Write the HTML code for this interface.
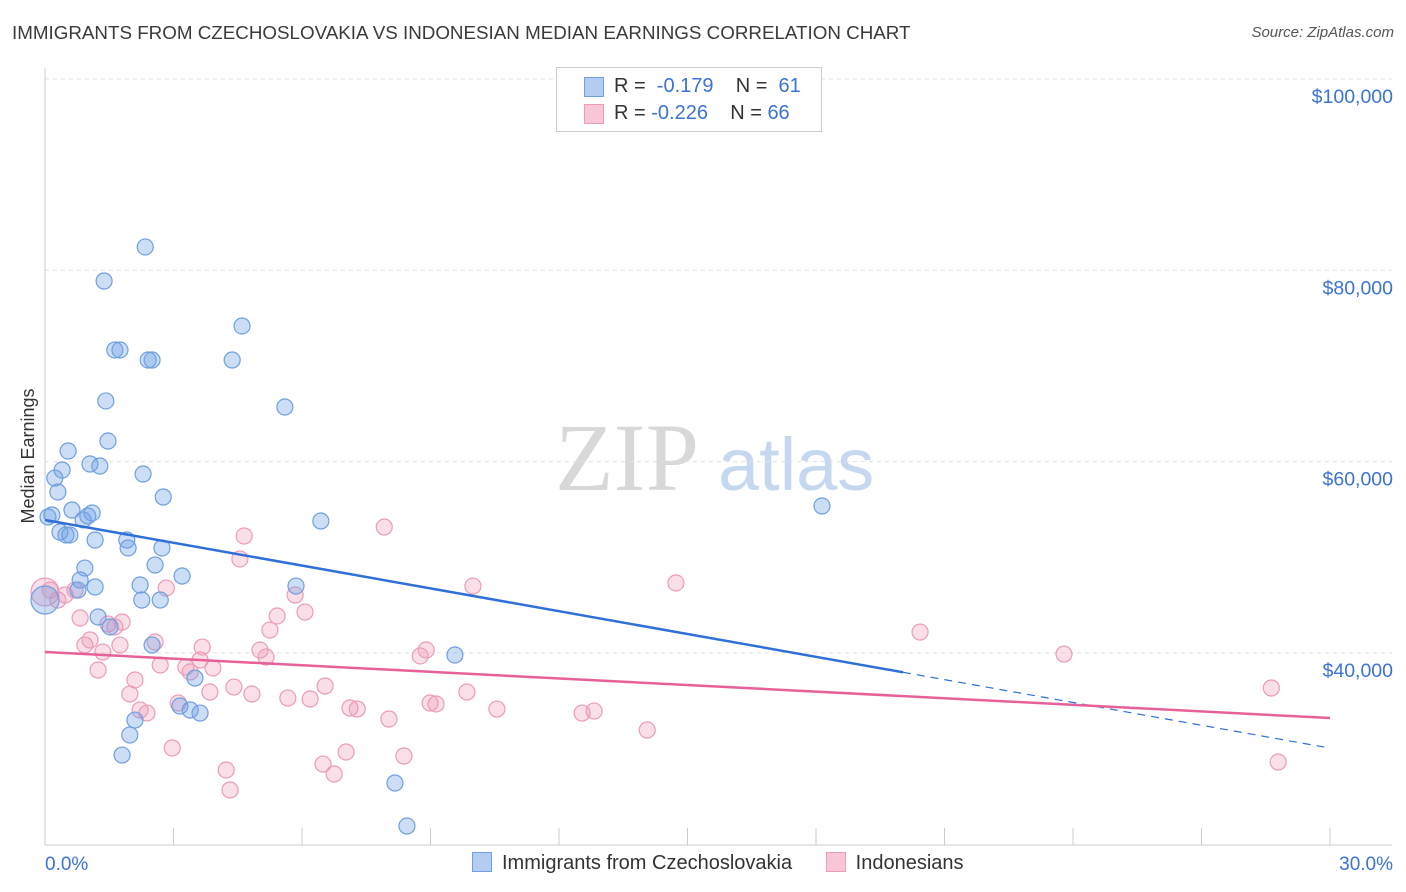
<!DOCTYPE html>
<html><head><meta charset="utf-8">
<style>
body{margin:0;background:#fff;font-family:"Liberation Sans",sans-serif;}
#wrap{position:relative;width:1406px;height:892px;overflow:hidden;}
.t{position:absolute;white-space:nowrap;}
</style></head>
<body>
<div id="wrap">
<div class="t" style="left:12px;top:22px;font-size:18.8px;color:#3a3a3a;">IMMIGRANTS FROM CZECHOSLOVAKIA VS INDONESIAN MEDIAN EARNINGS CORRELATION CHART</div>
<div class="t" style="right:12px;top:24px;font-size:15px;color:#555;font-style:italic;">Source: ZipAtlas.com</div>
<svg id="svg" width="1406" height="892" style="position:absolute;left:0;top:0"></svg>
</div>
<script>
const yTicks=[100000,80000,60000,40000];
const yTickLabels=["$100,000","$80,000","$60,000","$40,000"];
const xTickLabels=["0.0%","30.0%"];
const blueX=[0,0.07,0.16,0.23,0.30,0.40,0.54,0.35,0.49,0.63,0.58,0.89,1.00,1.10,1.17,0.93,0.82,0.77,1.17,1.24,1.52,1.38,1.42,1.47,1.05,1.28,1.63,1.75,2.34,2.41,2.50,2.29,2.76,1.91,1.94,2.73,2.57,2.22,2.26,2.69,3.20,2.50,3.50,3.15,3.39,3.62,2.10,1.98,1.80,4.60,4.37,5.60,6.44,5.86,9.57,8.17,8.45,18.14];
const blueY=[45530,54210,54420,58280,56820,59120,61110,52640,52330,54940,52330,53900,54310,54630,51800,48870,47620,46570,46890,43750,42710,78880,66340,62150,59750,59540,71670,71670,82440,70620,70620,58700,56300,51800,50970,50970,49190,47100,45530,45530,48040,40820,37370,34450,34030,33710,32980,31420,29320,74180,70620,65710,53790,46990,39780,26400,21900,55360];
const pinkX=[0,0.12,0.30,0.47,0.70,0.82,0.93,1.05,1.24,1.35,1.47,1.63,1.75,1.80,1.98,2.10,2.22,2.38,2.57,2.69,2.83,2.97,3.11,3.29,3.39,3.62,3.67,3.85,3.92,4.23,4.32,4.41,4.55,4.65,4.83,5.02,5.16,5.25,5.42,5.67,5.84,6.07,6.19,6.49,6.54,6.75,7.03,7.12,7.29,7.92,8.03,8.38,8.76,8.90,8.99,9.13,9.85,9.99,10.55,12.54,12.82,14.06,14.73,20.43,23.79,28.63,28.79];
const pinkY=[46360,46570,45530,46050,46570,43650,40820,41350,38210,40090,43020,42710,40820,43230,35700,37170,34030,33710,41140,38730,46780,30060,34760,38520,38000,39260,40610,35910,38420,27760,25670,36430,49820,52220,35700,40300,39570,42390,43860,35280,46050,44270,35180,28380,36540,27340,29640,34240,34130,53160,33090,29220,39680,40300,34760,34660,35910,46990,34130,33710,33920,31940,47310,42180,39880,36330,28590];
const blueTrend=[53900,30050]; const blueSolidEnd=20.03;
const pinkTrend=[40090,33190];

const X=p=>45+p/30*1285;
const Y=v=>79+(100000-v)*0.009565;
const NS="http://www.w3.org/2000/svg";
const svg=document.getElementById('svg');
function mk(t,a){const e=document.createElementNS(NS,t);for(const k in a)e.setAttribute(k,a[k]);svg.appendChild(e);return e;}

let w1=mk('text',{x:555,y:490,'font-size':96,'font-family':'Liberation Serif,serif',fill:'#d8d8d8'});w1.textContent='ZIP';


let w2=mk('text',{x:718,y:490,'font-size':74,'font-family':'Liberation Sans,sans-serif',fill:'#c5d8ef'});w2.textContent='atlas';



yTicks.forEach((v,i)=>{
 const g=mk('line',{x1:45,x2:1392,y1:Y(v),y2:Y(v),stroke:'#e0e0e0','stroke-dasharray':'4,4'});
 
 
 const t=mk('text',{x:1393,y:Y(v)+24,'text-anchor':'end','font-size':19.5,fill:'#3b73d6'});t.textContent=yTickLabels[i];
 
 
});
let ax=mk('line',{x1:45,x2:1392,y1:845,y2:845,stroke:'#ccc'});


let ay=mk('line',{x1:45,x2:45,y1:68,y2:845,stroke:'#ccc'});


for(let i=0;i<=10;i++){const tk=mk('line',{x1:X(i*3),x2:X(i*3),y1:828,y2:845,stroke:'#ccc'});
 
 }
[[0,'start',45],[1,'end',1393]].forEach(([i,a,x])=>{const t=mk('text',{x:x,y:870,'text-anchor':a,'font-size':19,fill:'#3b73d6'});t.textContent=xTickLabels[i];
 
 });
let yt=mk('text',{x:34,y:456,transform:'rotate(-90 34 456)','text-anchor':'middle','font-size':18,fill:'#333'});yt.textContent='Median Earnings';



pinkX.forEach((x,i)=>{const c=mk('circle',{cx:X(x),cy:Y(pinkY[i]),r:i==0?14:8,fill:'rgba(240,150,180,0.3)',stroke:'#eb9bb8','stroke-width':1.2});
 
 });
blueX.forEach((x,i)=>{const c=mk('circle',{cx:X(x),cy:Y(blueY[i]),r:i==0?14:8,fill:'rgba(110,160,230,0.35)',stroke:'#6f9fe0','stroke-width':1.2});
 
 });

const bAt=p=>blueTrend[0]+(blueTrend[1]-blueTrend[0])*p/30;
let bl=mk('line',{x1:X(0),y1:Y(bAt(0)),x2:X(blueSolidEnd),y2:Y(bAt(blueSolidEnd)),stroke:'#2f6fd8','stroke-width':2.5});


let bd=mk('line',{x1:X(blueSolidEnd),y1:Y(bAt(blueSolidEnd)),x2:X(30),y2:Y(bAt(30)),stroke:'#2f6fd8','stroke-width':1.2,'stroke-dasharray':'8,6'});


let pl=mk('line',{x1:X(0),y1:Y(pinkTrend[0]),x2:X(30),y2:Y(pinkTrend[1]),stroke:'#e8609a','stroke-width':2.5});


</script>
<div class="t" style="left:556px;top:67px;width:264px;height:63px;border:1px solid #ccc;background:#fff;font-size:20px;">
 <div style="position:absolute;left:27px;top:9px;width:18px;height:18px;background:#b3cdf2;border:1px solid #6f9fe0"></div>
 <div style="position:absolute;left:57px;top:7px;color:#333">R = <span style="color:#3b73d6">&nbsp;-0.179</span>&nbsp;&nbsp;&nbsp;&nbsp;N = <span style="color:#3b73d6">&nbsp;61</span></div>
 <div style="position:absolute;left:27px;top:36px;width:18px;height:18px;background:#f8c6d7;border:1px solid #eb9bb8"></div>
 <div style="position:absolute;left:57px;top:34px;color:#333">R = <span style="color:#3b73d6">-0.226</span>&nbsp;&nbsp;&nbsp;&nbsp;N = <span style="color:#3b73d6">66</span></div>
</div>
<div class="t" style="left:472px;top:852px;font-size:20px;color:#333">
 <span style="display:inline-block;width:18px;height:18px;background:#b3cdf2;border:1px solid #6f9fe0;vertical-align:-3px;margin-right:10px"></span>Immigrants from Czechoslovakia
 <span style="display:inline-block;width:18px;height:18px;background:#f8c6d7;border:1px solid #eb9bb8;vertical-align:-3px;margin:0 10px 0 28px"></span>Indonesians
</div>
</body></html>
